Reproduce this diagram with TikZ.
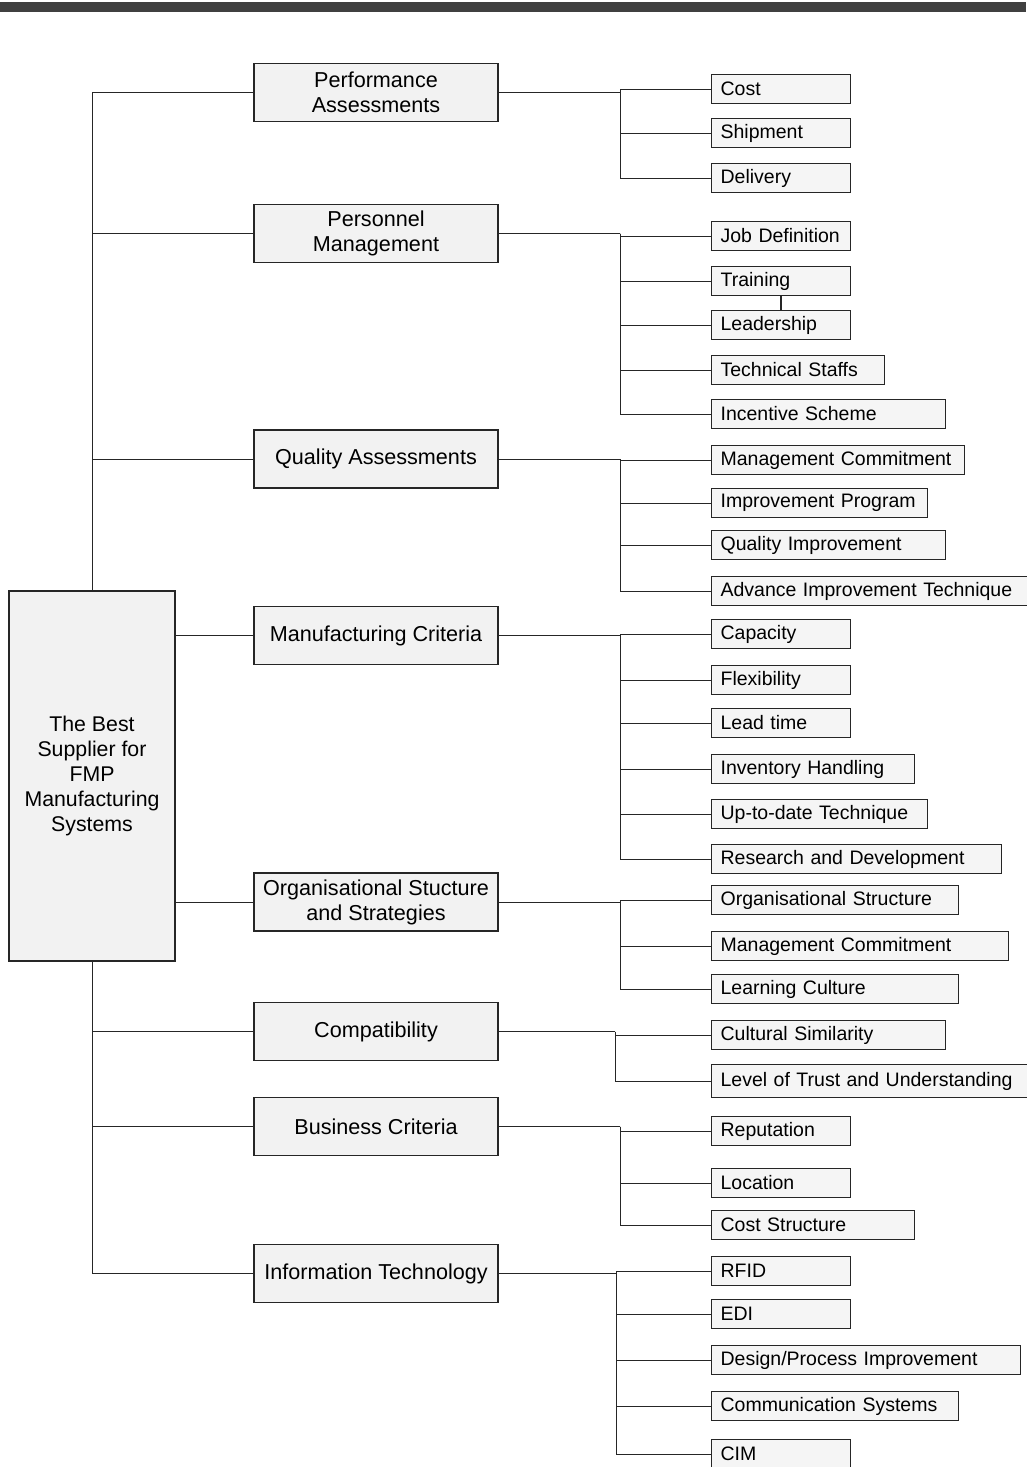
\documentclass[tikz,border=0pt]{standalone}
\usepackage{fontspec}
\setmainfont{Liberation Sans}
\begin{document}
\begin{tikzpicture}[x=1pt,y=-1pt,
  box/.style={draw=black!85, line width=1.2pt, fill=gray!10},
  rootbox/.style={box, minimum width=166pt, minimum height=370pt, align=center,
    font=\fontsize{21.3}{25}\selectfont},
  catbox/.style={box, minimum width=244pt, minimum height=58pt, align=center,
    font=\fontsize{21.6}{25}\selectfont},
  leaf/.style={box, fill=gray!8, minimum height=29pt, inner xsep=9pt, inner ysep=0pt,
    text width=#1, align=left, anchor=west, font=\fontsize{19.5}{23}\selectfont},
  link/.style={draw=black!85, line width=0.9pt}]
\useasboundingbox (0,0) rectangle (1026,1467);
\fill[white] (0,0) rectangle (1026,1467);
% header rule
\fill[black!75] (0,2) rectangle (1026,12);

% root
\node[rootbox] (root) at (92,776) {The Best\\Supplier for\\FMP\\Manufacturing\\Systems};

% categories
\node[catbox] (pa) at (376,92.5) {Performance\\Assessments};
\node[catbox] (pm) at (376,233.5) {Personnel\\Management};
\node[catbox] (qa) at (376,459) {Quality Assessments};
\node[catbox] (mc) at (376,635.5) {Manufacturing Criteria};
\node[catbox] (os) at (376,902) {Organisational Stucture\\and Strategies};
\node[catbox] (cp) at (376,1031.5) {Compatibility};
\node[catbox] (bc) at (376,1126.5) {Business Criteria};
\node[catbox] (it) at (376,1273.5) {Information Technology};

% leaves: performance
\node[leaf=121pt] (l1) at (711,89) {Cost};
\node[leaf=121pt] (l2) at (711,133) {Shipment};
\node[leaf=121pt] (l3) at (711,178) {Delivery};
% personnel
\node[leaf=121pt] (l4) at (711,236) {Job Definition};
\node[leaf=121pt] (l5) at (711,281) {Training};
\node[leaf=121pt] (l6) at (711,325) {Leadership};
\node[leaf=155pt] (l7) at (711,370) {Technical Staffs};
\node[leaf=216pt] (l8) at (711,414) {Incentive Scheme};
% quality
\node[leaf=235pt] (l9) at (711,460) {Management Commitment};
\node[leaf=198pt] (l10) at (711,503) {Improvement Program};
\node[leaf=216pt] (l11) at (711,545) {Quality Improvement};
\node[leaf=302pt] (l12) at (711,591) {Advance Improvement Technique};
% manufacturing
\node[leaf=121pt] (l13) at (711,634) {Capacity};
\node[leaf=121pt] (l14) at (711,680) {Flexibility};
\node[leaf=121pt] (l15) at (711,723) {Lead time};
\node[leaf=185pt] (l16) at (711,769) {Inventory Handling};
\node[leaf=198pt] (l17) at (711,814) {Up-to-date Technique};
\node[leaf=272pt] (l18) at (711,859) {Research and Development};
% organisation
\node[leaf=229pt] (l19) at (711,900) {Organisational Structure};
\node[leaf=279pt] (l20) at (711,946) {Management Commitment};
\node[leaf=229pt] (l21) at (711,989) {Learning Culture};
% compatibility
\node[leaf=216pt] (l22) at (711,1035) {Cultural Similarity};
\node[leaf=302pt, minimum height=33pt] (l23) at (711,1081) {Level of Trust and Understanding};
% business
\node[leaf=121pt] (l24) at (711,1131) {Reputation};
\node[leaf=121pt] (l25) at (711,1183) {Location};
\node[leaf=185pt] (l26) at (711,1225) {Cost Structure};
% information technology
\node[leaf=121pt] (l27) at (711,1271) {RFID};
\node[leaf=121pt] (l28) at (711,1314) {EDI};
\node[leaf=291pt] (l29) at (711,1360) {Design/Process Improvement};
\node[leaf=229pt] (l30) at (711,1406) {Communication Systems};
\node[leaf=121pt] (l31) at (711,1454) {CIM};

% trunk from root to categories
\foreach \c in {pa,pm,qa} \draw[link] (\c.west) -| (root.north);
\foreach \c in {cp,bc,it} \draw[link] (\c.west) -| (root.south);
\foreach \c in {mc,os} \draw[link] (\c.west) -- (\c.west -| root.east);

% branch points
\coordinate (bpa) at (620,92.5);
\coordinate (bpm) at (620,233.5);
\coordinate (bqa) at (620,459);
\coordinate (bmc) at (620,635.5);
\coordinate (bos) at (620,902);
\coordinate (bcp) at (615,1031.5);
\coordinate (bbc) at (620,1126.5);
\coordinate (bit) at (616,1273.5);

\foreach \c in {pa,pm,qa,mc,os,cp,bc,it} \draw[link] (\c.east) -- (b\c);
\foreach \l in {l1,l2,l3} \draw[link] (bpa) |- (\l.west);
\foreach \l in {l4,l5,l6,l7,l8} \draw[link] (bpm) |- (\l.west);
\foreach \l in {l9,l10,l11,l12} \draw[link] (bqa) |- (\l.west);
\foreach \l in {l13,l14,l15,l16,l17,l18} \draw[link] (bmc) |- (\l.west);
\foreach \l in {l19,l20,l21} \draw[link] (bos) |- (\l.west);
\foreach \l in {l22,l23} \draw[link] (bcp) |- (\l.west);
\foreach \l in {l24,l25,l26} \draw[link] (bbc) |- (\l.west);
\foreach \l in {l27,l28,l29,l30,l31} \draw[link] (bit) |- (\l.west);

% training -- leadership
\draw[link, line width=1.2pt] (l5.south -| 781,0) -- (l6.north -| 781,0);
\end{tikzpicture}
\end{document}
